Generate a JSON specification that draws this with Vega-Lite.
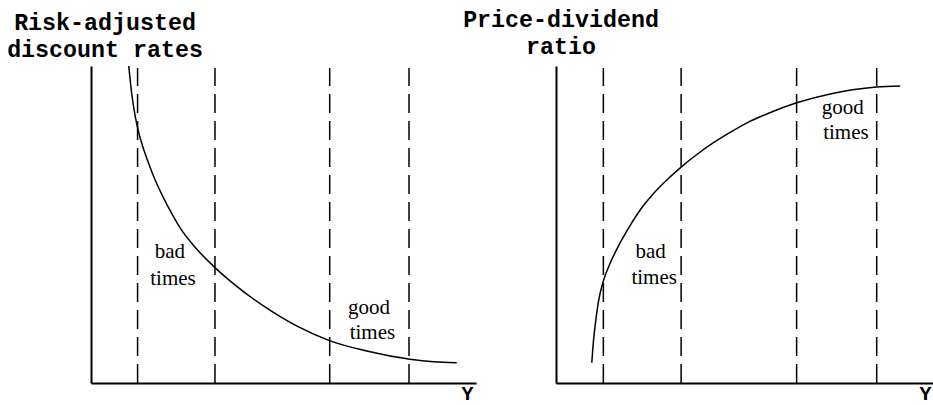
{
  "$schema": "https://vega.github.io/schema/vega-lite/v6.json",
  "autosize": {"type": "pad"},
  "padding": {"left": 7, "top": 7, "right": 10, "bottom": 30},
  "bounds": "flush",
  "spacing": 80,
  "background": "white",
  "config": {
    "view": {"stroke": null},
    "axis": {
      "domain": true, "domainColor": "black", "domainWidth": 2,
      "ticks": false, "labels": false, "grid": false
    }
  },
  "datasets": {
    "leftCurve": [
      {"x": 9.8, "y": 100}, {"x": 10.6, "y": 91}, {"x": 11.5, "y": 84},
      {"x": 12.5, "y": 78.5}, {"x": 13.6, "y": 74}, {"x": 14.8, "y": 69.9},
      {"x": 16.5, "y": 64.5}, {"x": 18.8, "y": 58.5}, {"x": 21.0, "y": 53.4},
      {"x": 23.1, "y": 49.0}, {"x": 27.5, "y": 42.2}, {"x": 32.2, "y": 36.4},
      {"x": 36.1, "y": 32.2}, {"x": 44.8, "y": 24.3}, {"x": 53.4, "y": 18.0},
      {"x": 62.1, "y": 13.3}, {"x": 71.6, "y": 10.1}, {"x": 82.9, "y": 7.5},
      {"x": 89.0, "y": 6.7}, {"x": 95.0, "y": 6.4}
    ],
    "rightCurve": [
      {"x": 9.3, "y": 6.4}, {"x": 9.6, "y": 11.5}, {"x": 10.1, "y": 17.4},
      {"x": 11.0, "y": 25.5}, {"x": 12.3, "y": 32.2}, {"x": 14.0, "y": 37.6},
      {"x": 16.2, "y": 43.2}, {"x": 19.2, "y": 49.6}, {"x": 22.0, "y": 54.8},
      {"x": 25.0, "y": 59.3}, {"x": 28.5, "y": 63.7}, {"x": 32.5, "y": 68.1},
      {"x": 36.5, "y": 72.0}, {"x": 40.9, "y": 75.8}, {"x": 45.0, "y": 78.9},
      {"x": 49.5, "y": 82.0}, {"x": 56.0, "y": 85.5}, {"x": 62.5, "y": 88.4},
      {"x": 71.2, "y": 91.2}, {"x": 77.0, "y": 92.5}, {"x": 83.3, "y": 93.4},
      {"x": 89.4, "y": 93.7}
    ],
    "leftDashes": [
      {"x": 12.1, "ylo": 0, "yhi": 99.4}, {"x": 32.2, "ylo": 0, "yhi": 99.4},
      {"x": 62.0, "ylo": 0, "yhi": 99.4}, {"x": 82.6, "ylo": 0, "yhi": 99.4}
    ],
    "rightDashes": [
      {"x": 12.3, "ylo": 0, "yhi": 99.4}, {"x": 32.5, "ylo": 0, "yhi": 99.4},
      {"x": 62.5, "ylo": 0, "yhi": 99.4}, {"x": 83.3, "ylo": 0, "yhi": 99.4}
    ],
    "leftLabels": [
      {"x": 20.5, "y": 39.4, "t": "bad"}, {"x": 21.3, "y": 30.9, "t": "times"},
      {"x": 72.2, "y": 21.8, "t": "good"}, {"x": 73.1, "y": 13.9, "t": "times"}
    ],
    "rightLabels": [
      {"x": 24.6, "y": 39.5, "t": "bad"}, {"x": 25.5, "y": 31.2, "t": "times"},
      {"x": 74.5, "y": 84.9, "t": "good"}, {"x": 75.3, "y": 77.0, "t": "times"}
    ]
  },
  "hconcat": [
    {
      "width": 385,
      "height": 317,
      "title": {
        "text": ["Risk-adjusted", "discount rates"],
        "anchor": "start", "align": "center", "dx": 14,
        "font": "Liberation Mono", "fontSize": 23.3, "fontWeight": "bold",
        "lineHeight": 27, "baseline": "bottom", "offset": -22, "color": "black"
      },
      "layer": [
        {
          "data": {"name": "leftDashes"},
          "mark": {"type": "rule", "color": "black", "strokeWidth": 1.5, "strokeDash": [19, 8]},
          "encoding": {
            "x": {"field": "x", "type": "quantitative", "scale": {"domain": [0, 100]},
              "axis": {"title": "Y", "titleX": 376, "titleY": 16, "titleAlign": "center",
                "titleBaseline": "alphabetic", "titleFont": "Liberation Mono",
                "titleFontSize": 20, "titleFontWeight": "bold", "titleColor": "black"}},
            "y": {"field": "ylo", "type": "quantitative", "scale": {"domain": [0, 100]},
              "axis": {"title": null}},
            "y2": {"field": "yhi"}
          }
        },
        {
          "data": {"name": "leftCurve"},
          "mark": {"type": "line", "color": "black", "strokeWidth": 1.5, "interpolate": "monotone"},
          "encoding": {
            "x": {"field": "x", "type": "quantitative"},
            "y": {"field": "y", "type": "quantitative"}
          }
        },
        {
          "data": {"name": "leftLabels"},
          "mark": {"type": "text", "font": "Liberation Serif", "fontSize": 21, "align": "center",
            "baseline": "alphabetic", "color": "black"},
          "encoding": {
            "x": {"field": "x", "type": "quantitative"},
            "y": {"field": "y", "type": "quantitative"},
            "text": {"field": "t"}
          }
        }
      ]
    },
    {
      "width": 385,
      "height": 317,
      "title": {
        "text": ["Price-dividend", "ratio"],
        "anchor": "start", "align": "center", "dx": 5,
        "font": "Liberation Mono", "fontSize": 23.3, "fontWeight": "bold",
        "lineHeight": 27, "baseline": "bottom", "offset": -16, "color": "black"
      },
      "layer": [
        {
          "data": {"name": "rightDashes"},
          "mark": {"type": "rule", "color": "black", "strokeWidth": 1.5, "strokeDash": [19, 8]},
          "encoding": {
            "x": {"field": "x", "type": "quantitative", "scale": {"domain": [0, 100]},
              "axis": {"title": "Y", "titleX": 369, "titleY": 16, "titleAlign": "center",
                "titleBaseline": "alphabetic", "titleFont": "Liberation Mono",
                "titleFontSize": 20, "titleFontWeight": "bold", "titleColor": "black"}},
            "y": {"field": "ylo", "type": "quantitative", "scale": {"domain": [0, 100]},
              "axis": {"title": null}},
            "y2": {"field": "yhi"}
          }
        },
        {
          "data": {"name": "rightCurve"},
          "mark": {"type": "line", "color": "black", "strokeWidth": 1.5, "interpolate": "monotone"},
          "encoding": {
            "x": {"field": "x", "type": "quantitative"},
            "y": {"field": "y", "type": "quantitative"}
          }
        },
        {
          "data": {"name": "rightLabels"},
          "mark": {"type": "text", "font": "Liberation Serif", "fontSize": 21, "align": "center",
            "baseline": "alphabetic", "color": "black"},
          "encoding": {
            "x": {"field": "x", "type": "quantitative"},
            "y": {"field": "y", "type": "quantitative"},
            "text": {"field": "t"}
          }
        }
      ]
    }
  ]
}
